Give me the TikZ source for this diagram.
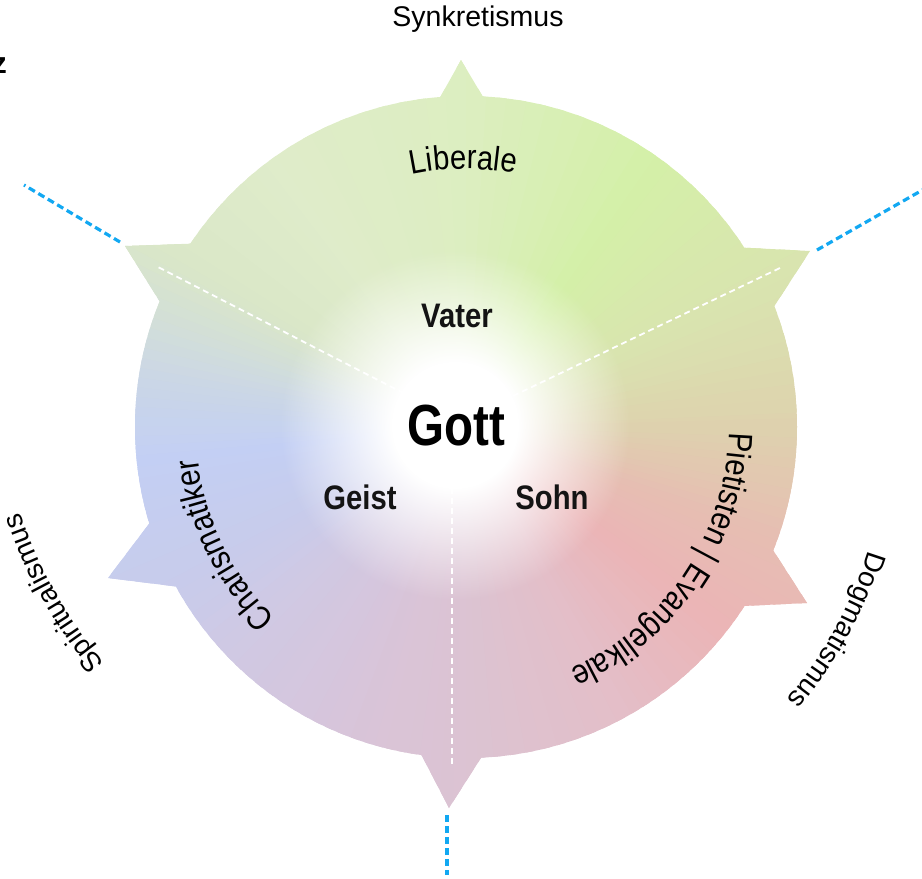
\documentclass[tikz,border=0pt]{standalone}
\usepackage{fontspec}
\setmainfont{Liberation Sans}
\newfontfamily\condfont[FakeStretch=0.86]{Liberation Sans}
\newfontfamily\gottfont[FakeStretch=0.82]{Liberation Sans}
\usetikzlibrary{calc,decorations.text,fadings}
\definecolor{skyline}{HTML}{12A8F2}
\definecolor{ktan}{HTML}{DED2AE}
\definecolor{kolive}{HTML}{D9E4AF}
\definecolor{kgreen}{HTML}{D4F0A8}
\definecolor{ktop}{HTML}{DCEEC0}
\definecolor{kpale}{HTML}{DFECCA}
\definecolor{kpale2}{HTML}{DAE7C8}
\definecolor{kgrey}{HTML}{CDD9E2}
\definecolor{kblue}{HTML}{C3CFF4}
\definecolor{kblue2}{HTML}{C7CCEC}
\definecolor{klav}{HTML}{D1C8E2}
\definecolor{kmauve}{HTML}{D9C4D8}
\definecolor{kbottom}{HTML}{DCC3D2}
\definecolor{krose}{HTML}{E4BEC7}
\definecolor{kpink}{HTML}{EBB4B6}
\definecolor{kpeach}{HTML}{E6BFB2}
\pgfdeclareradialshading{blobshade}{\pgfpointorigin}{color(0bp)=(transparent!0); color(9bp)=(transparent!0); color(25bp)=(transparent!100); color(50bp)=(transparent!100)}
\pgfdeclarefading{blob}{\pgfuseshading{blobshade}}
\begin{document}
\begin{tikzpicture}[x=1pt,y=1pt,
  blueline/.style={skyline, line width=3.2pt, dash pattern=on 7pt off 4pt},
  whiteline/.style={white, line width=1.8pt, dash pattern=on 6pt off 4pt},
  person/.style={font=\condfont\bfseries\fontsize{34}{40}\selectfont, text=black!92, inner sep=0pt},
  outerlabel/.style={font=\fontsize{28.5}{34}\selectfont, inner sep=0pt},
  arclabel/.style={decorate, decoration={text along path, text format delimiters={[}{]}, text align=center, text={#1}}}
]
\useasboundingbox (0,0) rectangle (922,-879);
\coordinate (C) at (466,-427);
\coordinate (S) at (442,-376);
\coordinate (T1) at (461,-60);
\coordinate (T2) at (810,-251);
\coordinate (T3) at (807,-603);
\coordinate (T4) at (449,-808);
\coordinate (T5) at (108,-578);
\coordinate (T6) at (125,-246);

\begin{scope}
\clip ($(C)+(331,0)$) arc[start angle=0, end angle=360, radius=331]
  (T1) -- ($(T1)!150pt!-30:(C)$) -- ($(T1)!150pt!30:(C)$) -- cycle
  (T2) -- ($(T2)!150pt!-30:(C)$) -- ($(T2)!150pt!30:(C)$) -- cycle
  (T3) -- ($(T3)!150pt!-30:(C)$) -- ($(T3)!150pt!30:(C)$) -- cycle
  (T4) -- ($(T4)!150pt!-30:(C)$) -- ($(T4)!150pt!30:(C)$) -- cycle
  (T5) -- ($(T5)!150pt!-30:(C)$) -- ($(T5)!150pt!30:(C)$) -- cycle
  (T6) -- ($(T6)!150pt!-30:(C)$) -- ($(T6)!150pt!30:(C)$) -- cycle;
% angular (conic) colour field
\foreach \sa/\ea/\ca/\cb in {
   0/25/ktan/kolive, 25/55/kolive/kgreen, 55/90/kgreen/ktop,
   90/125/ktop/kpale, 125/150/kpale/kpale2, 150/168/kpale2/kgrey,
   168/185/kgrey/kblue, 185/205/kblue/kblue2, 205/228/kblue2/klav,
   228/252/klav/kmauve, 252/272/kmauve/kbottom, 272/300/kbottom/krose,
   300/322/krose/kpink, 322/342/kpink/kpeach, 342/360/kpeach/ktan} {
  \foreach \j in {0,...,9} {
    \pgfmathtruncatemacro\p{95-10*\j}
    \pgfmathsetmacro\aa{\sa+(\ea-\sa)*\j/10}
    \pgfmathsetmacro\bb{\sa+(\ea-\sa)*(\j+1)/10+1.5}
    \fill[\ca!\p!\cb] (C) -- ($(C)+(\aa:460)$) arc[start angle=\aa, end angle=\bb, radius=460] -- cycle;
  }
}
\fill[white, path fading=blob] (455,-425) circle[radius=175];
\end{scope}

% white dashed dividers
\coordinate (w1a) at (413,-398); \coordinate (w1b) at (158,-267);
\coordinate (w2a) at (513,-396); \coordinate (w2b) at (780,-268);
\coordinate (w3a) at (452,-468); \coordinate (w3b) at (452,-767);
\draw[whiteline] (w1a) -- (w1b);
\draw[whiteline] (w2a) -- (w2b);
\draw[whiteline] (w3a) -- (w3b);

% blue dashed lines
\coordinate (b1a) at (120,-242); \coordinate (b1b) at (24,-185);
\coordinate (b2a) at (817,-250); \coordinate (b2b) at (926,-188);
\coordinate (b3a) at (447,-815); \coordinate (b3b) at (447,-875);
\draw[blueline] (b1a) -- (b1b);
\draw[blueline] (b2a) -- (b2b);
\draw[blueline] (b3a) -- (b3b);

% centre labels
\node[person] (vater) at (457,-316) {Vater};
\node[font=\gottfont\bfseries\fontsize{58}{66}\selectfont, inner sep=0pt] (gott) at (456,-426) {Gott};
\node[person] (geist) at (360,-497) {Geist};
\node[person] (sohn) at (552,-497) {Sohn};

% outer top label and cut-off letter
\node[outerlabel] (synk) at (478,-19) {Synkretismus};
\node[font=\bfseries\fontsize{30}{34}\selectfont, inner sep=0pt, anchor=base east] (zz) at (7,-73) {z};

% curved inner labels
\path[arclabel={[\condfont\fontsize{34}{40}\selectfont]Liberale}]
  ($(C)+(150.6:258)$) arc[start angle=150.6, end angle=30.6, radius=258];
\path[arclabel={[\condfont\fontsize{34}{40}\selectfont]Pietisten | Evangelikale}]
  ($(C)+(26:263)$) arc[start angle=26, end angle=-94, radius=263];
\path[arclabel={[\condfont\fontsize{34}{40}\selectfont]Charismatiker}]
  ($(C)+(265.9:270)$) arc[start angle=265.9, end angle=145.9, radius=270];

% curved outer labels
\path[arclabel={[\fontsize{28}{34}\selectfont]Dogmatismus}]
  ($(C)+(1.3:421)$) arc[start angle=1.3, end angle=-58.7, radius=421];
\path[arclabel={[\fontsize{28}{34}\selectfont]Spiritualismus}]
  ($(S)+(239.2:443)$) arc[start angle=239.2, end angle=179.2, radius=443];
\end{tikzpicture}
\end{document}
